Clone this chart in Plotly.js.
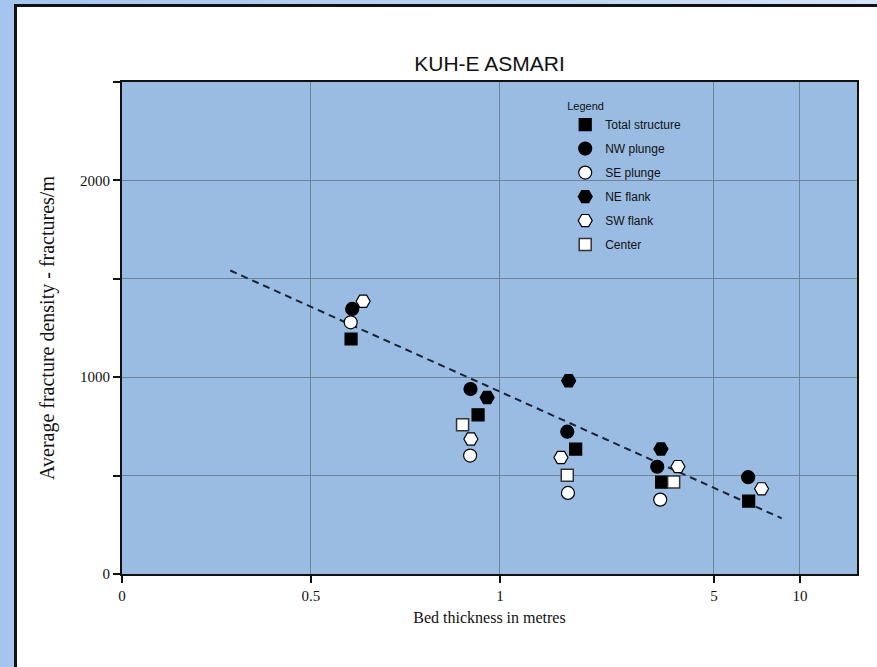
<!DOCTYPE html>
<html>
<head>
<meta charset="utf-8">
<script src="https://cdn.plot.ly/plotly-3.0.1.min.js"></script>
<style>
  html, body { margin:0; padding:0; width:877px; height:667px; overflow:hidden;
    background: linear-gradient(to right, #a5c5ee 0%, #bcd5f4 60%, #d4e4f8 100%); }
  #panel { position:absolute; left:14px; top:4px; width:863px; height:663px;
    background:#ffffff; border-left:3px solid #111; border-top:3px solid #111; }
  #chart { position:absolute; left:0; top:0; width:860px; height:660px; }
</style>
</head>
<body>
<div id="panel"><div id="chart"></div></div>
<script>
// ---- data (bed thickness in metres, average fracture density in fractures/m) ----
const totalX  = [0.606, 0.942, 2.415, 4.022, 7.02];
const totalY  = [1194, 809, 635, 467, 370];
const nwX     = [0.609, 0.922, 2.258, 3.940, 6.99];
const nwY     = [1347, 940, 723, 545, 492];
const seX     = [0.605, 0.921, 2.271, 3.996];
const seY     = [1279, 602, 412, 378];
const neX     = [0.966, 2.284, 4.009];
const neY     = [897, 982, 635];
const swX     = [0.638, 0.923, 2.140, 4.327, 7.77];
const swY     = [1386, 686, 592, 546, 433];
const centerX = [0.901, 2.258, 4.247];
const centerY = [758, 502, 467];
const trendX  = [0.2865, 8.94];
const trendY  = [1542, 283];

// x-axis tick labels (the original axis is non-uniform between its ticks)
const xTickValues = [0, 0.5, 1, 5, 10];
const xTickText   = ['0', '0.5', '1', '5', '10'];
const yTickValues = [0, 500, 1000, 1500, 2000, 2500];
const yTickText   = ['0', '', '1000', '', '2000', ''];

// axis scale: piecewise mapping of thickness onto axis position between tick anchors
const scaleAnchors = [0, 1, 2, 3.132, 3.587];
function toAxis(t) {
  for (let i = 0; i < xTickValues.length - 1; i++) {
    const a = xTickValues[i], b = xTickValues[i + 1];
    if (t <= b || i === xTickValues.length - 2) {
      return scaleAnchors[i] + (t - a) / (b - a) * (scaleAnchors[i + 1] - scaleAnchors[i]);
    }
  }
}
const X = arr => arr.map(toAxis);

const blackLine = {color:'#000', width:1.2};
const traces = [
  {x:X(trendX), y:trendY, mode:'lines', showlegend:false, hoverinfo:'skip',
   line:{color:'#1a2233', width:2, dash:'7px,5px'}},
  {name:'SW flank', x:X(swX), y:swY, mode:'markers', legendrank:5, legendgroup:'g5',
   marker:{symbol:'hexagon2', size:14, color:'#ffffff', line:blackLine}},
  {name:'NE flank', x:X(neX), y:neY, mode:'markers', legendrank:4, legendgroup:'g4',
   marker:{symbol:'hexagon2', size:14, color:'#000000', line:blackLine}},
  {name:'NW plunge', x:X(nwX), y:nwY, mode:'markers', legendrank:2, legendgroup:'g2',
   marker:{symbol:'circle', size:13, color:'#000000', line:blackLine}},
  {name:'SE plunge', x:X(seX), y:seY, mode:'markers', legendrank:3, legendgroup:'g3',
   marker:{symbol:'circle', size:13, color:'#ffffff', line:blackLine}},
  {name:'Total structure', x:X(totalX), y:totalY, mode:'markers', legendrank:1, legendgroup:'g1',
   marker:{symbol:'square', size:12, color:'#000000', line:blackLine}},
  {name:'Center', x:X(centerX), y:centerY, mode:'markers', legendrank:6, legendgroup:'g6',
   marker:{symbol:'square', size:12, color:'#ffffff', line:{color:'#333', width:1.5}}}
];

const serif = 'Liberation Serif, Times New Roman, serif';
const sans = 'Liberation Sans, Arial, sans-serif';

const layout = {
  width:860, height:660,
  margin:{l:105, r:20, t:75, b:93},
  paper_bgcolor:'rgba(0,0,0,0)',
  plot_bgcolor:'#9abce2',
  title:{text:'KUH-E ASMARI', font:{family:sans, size:21, color:'#111'},
         x:0.5, xref:'paper', xanchor:'center', y:0.914, yref:'container', yanchor:'middle'},
  xaxis:{range:[0, 3.889], tickvals:X(xTickValues), ticktext:xTickText,
         showgrid:true, gridcolor:'#6f8398', gridwidth:1, zeroline:false,
         showline:true, linecolor:'#111', linewidth:2, mirror:true,
         ticks:'outside', ticklen:7, tickwidth:2, tickcolor:'#111',
         tickfont:{family:serif, size:15, color:'#111'},
         title:{text:'Bed thickness in metres', font:{family:serif, size:16, color:'#111'}, standoff:9}},
  yaxis:{range:[0, 2500], tickvals:yTickValues, ticktext:yTickText,
         showgrid:true, gridcolor:'#6f8398', gridwidth:1, zeroline:false,
         showline:true, linecolor:'#111', linewidth:2, mirror:true,
         ticks:'outside', ticklen:7, tickwidth:2, tickcolor:'#111',
         tickfont:{family:serif, size:15, color:'#111'},
         title:{text:'Average fracture density - fractures/m', font:{family:serif, size:20, color:'#111'}, standoff:20}},
  showlegend:true,
  legend:{x:0.603, y:0.972, xanchor:'left', yanchor:'top', bgcolor:'rgba(0,0,0,0)',
          borderwidth:0, tracegroupgap:5, itemwidth:30,
          font:{family:sans, size:12, color:'#111'},
          title:{text:'Legend', font:{family:sans, size:11, color:'#111'}}},
  hovermode:false
};

Plotly.newPlot('chart', traces, layout, {displayModeBar:false, staticPlot:true});
</script>
</body>
</html>
